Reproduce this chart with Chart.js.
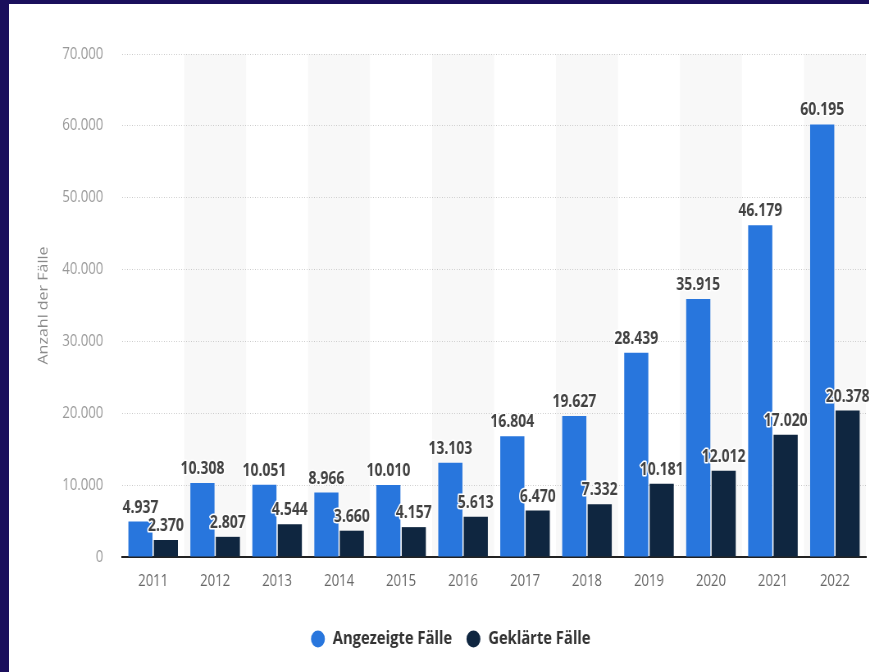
<!DOCTYPE html>
<html>
<head>
<meta charset="utf-8">
<script src="https://cdn.jsdelivr.net/npm/chart.js@4.4.1/dist/chart.umd.min.js"></script>
<style>
  html, body { margin: 0; padding: 0; background: #1a0f5c; width: 869px; height: 672px; overflow: hidden; }
  #frame { position: absolute; left: 9px; top: 4px; width: 860px; height: 668px; background: #ffffff; overflow: hidden; }
  canvas { display: block; }
</style>
</head>
<body>
<div id="frame"><canvas id="c" width="1049" height="668" style="width:1049px;height:668px;transform:scaleX(0.82);transform-origin:0 0;"></canvas></div>
<script>
const categories = ['2011','2012','2013','2014','2015','2016','2017','2018','2019','2020','2021','2022'];
const angezeigte = [4937, 10308, 10051, 8966, 10010, 13103, 16804, 19627, 28439, 35915, 46179, 60195];
const geklaerte = [2370, 2807, 4544, 3660, 4157, 5613, 6470, 7332, 10181, 12012, 17020, 20378];
const seriesNames = ['Angezeigte Fälle', 'Geklärte Fälle'];
const yTicks = [0, 10000, 20000, 30000, 40000, 50000, 60000, 70000];

const FONT = "'Open Sans'";
function fmt(v) { return String(v).replace(/\B(?=(\d{3})+(?!\d))/g, '.'); }

const bandPlugin = {
  id: 'bands',
  beforeDraw(chart) {
    const x = chart.scales.x, area = chart.chartArea, ctx = chart.ctx;
    const half = (x.getPixelForValue(1) - x.getPixelForValue(0)) / 2;
    ctx.save();
    ctx.fillStyle = '#f8f8f8';
    for (let i = 1; i < categories.length; i += 2) {
      const c = x.getPixelForValue(i);
      ctx.fillRect(c - half, area.top, half * 2, area.bottom - area.top);
    }
    ctx.restore();
  }
};

const legendShift = {
  id: 'legendShift',
  afterLayout(chart) {
    if (chart.legend) { chart.legend.left += 16; chart.legend.right += 16; }
  }
};

const labelPlugin = {
  id: 'vlabels',
  afterDatasetsDraw(chart) {
    const ctx = chart.ctx;
    ctx.save();
    ctx.font = 'bold 17px ' + FONT;
    ctx.textAlign = 'center';
    ctx.textBaseline = 'alphabetic';
    ctx.lineJoin = 'round';
    chart.data.datasets.forEach((ds, di) => {
      const meta = chart.getDatasetMeta(di);
      meta.data.forEach((bar, i) => {
        const t = fmt(ds.data[i]);
        const y = bar.y - 9;
        ctx.strokeStyle = '#ffffff';
        ctx.lineWidth = 3;
        ctx.strokeText(t, bar.x, y);
        ctx.fillStyle = '#424242';
        ctx.fillText(t, bar.x, y);
      });
    });
    ctx.restore();
  }
};

new Chart(document.getElementById('c'), {
  type: 'bar',
  data: {
    labels: categories,
    datasets: [
      { label: seriesNames[0], data: angezeigte, backgroundColor: '#2876dd', barPercentage: 0.95, categoryPercentage: 0.82 },
      { label: seriesNames[1], data: geklaerte, backgroundColor: '#0f2640', barPercentage: 0.95, categoryPercentage: 0.82 }
    ]
  },
  options: {
    responsive: false,
    animation: false,
    devicePixelRatio: 1,
    layout: { padding: { top: 50, right: 4, bottom: 14, left: 0 } },
    plugins: {
      tooltip: { enabled: false },
      legend: {
        position: 'bottom',
        labels: {
          usePointStyle: true,
          pointStyle: 'circle',
          boxHeight: 12,
          padding: 17,
          color: '#333333',
          font: { family: FONT, size: 18, weight: 'bold' }
        }
      }
    },
    scales: {
      x: {
        grid: { display: false, drawTicks: false },
        border: { display: true, color: '#222222', width: 2 },
        ticks: { color: '#666666', font: { family: FONT, size: 16 }, padding: 15 },
        afterFit(s) { s.height = 56; }
      },
      y: {
        min: 0, max: 70000,
        afterBuildTicks(s) { s.ticks = yTicks.map(v => ({ value: v })); },
        grid: { color: '#c8c8c8', drawTicks: false, lineWidth: 1 },
        border: { display: false, dash: [1, 2] },
        ticks: { color: '#999999', font: { family: FONT, size: 16 }, padding: 23, callback: v => fmt(v) },
        title: { display: true, text: 'Anzahl der Fälle', color: '#8a8a8a', font: { family: FONT, size: 16 }, padding: { top: 33, bottom: 0 } },
        afterFit(s) { s.width = 138; }
      }
    }
  },
  plugins: [bandPlugin, legendShift, labelPlugin]
});
</script>
</body>
</html>
